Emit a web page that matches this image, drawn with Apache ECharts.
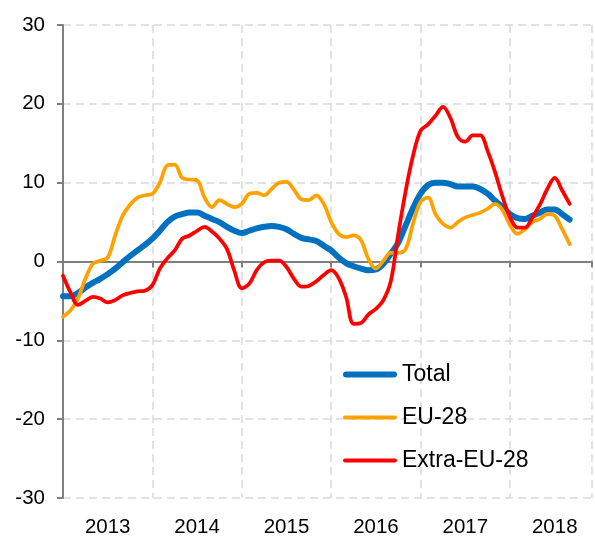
<!doctype html>
<html>
<head>
<meta charset="utf-8">
<title>Total / EU-28 / Extra-EU-28</title>
<script src="https://cdn.jsdelivr.net/npm/echarts@6/dist/echarts.min.js"></script>
<style>
  html, body { margin: 0; padding: 0; background: #fff; }
  #main { width: 595px; height: 538px; }
</style>
</head>
<body>
<div id="main"></div>
<script>
// monthly values, Jan 2013 .. Sep 2018
var years = ['2013', '2014', '2015', '2016', '2017', '2018'];

var total = [
  -4.4, -4.4, -4.0, -3.3, -2.7, -2.2, -1.6, -0.9, -0.1, 0.7, 1.4, 2.1,
  2.9, 3.9, 5.0, 5.7, 6.0, 6.2, 6.2, 5.8, 5.4, 5.0, 4.4, 3.9,
  3.6, 3.9, 4.2, 4.4, 4.5, 4.4, 4.1, 3.5, 3.0, 2.8, 2.6, 2.0,
  1.4, 0.5, -0.2, -0.6, -0.9, -1.1, -1.0, -0.3, 1.0, 2.4, 4.6, 6.8,
  8.6, 9.7, 10.0, 10.0, 9.8, 9.5, 9.5, 9.5, 9.2, 8.6, 7.7, 6.9,
  6.0, 5.5, 5.4, 5.8, 6.2, 6.6, 6.6, 6.0, 5.3
];

var eu28 = [
  -7.0, -6.2, -4.7, -2.2, -0.3, 0.1, 0.5, 3.3, 5.8, 7.2, 8.1, 8.4,
  8.6, 10.0, 12.2, 12.3, 10.6, 10.4, 10.3, 8.1, 6.9, 7.8, 7.3, 6.9,
  7.3, 8.6, 8.7, 8.4, 9.2, 10.0, 10.1, 9.1, 7.9, 7.8, 8.4, 7.3,
  5.0, 3.5, 3.1, 3.3, 2.7, 0.3, -0.9, 0.1, 1.1, 1.1, 1.6, 4.9,
  7.6, 8.1, 6.0, 4.8, 4.3, 5.0, 5.6, 5.9, 6.2, 6.7, 7.3, 6.5,
  4.6, 3.5, 4.1, 5.0, 5.4, 6.0, 5.8, 4.1, 2.2
];

var extraEu28 = [
  -1.8, -3.9, -5.5, -5.0, -4.5, -4.7, -5.2, -4.9, -4.3, -4.0, -3.8, -3.7,
  -3.0, -0.9, 0.4, 1.4, 2.9, 3.3, 3.9, 4.4, 3.8, 2.9, 1.6, -1.2,
  -3.4, -2.8, -1.1, -0.1, 0.1, 0.1, -0.7, -2.2, -3.2, -3.1, -2.5, -1.7,
  -1.1, -2.1, -4.5, -7.9, -7.8, -6.7, -6.0, -4.9, -2.5, 3.5, 9.0, 13.5,
  16.6, 17.4, 18.5, 19.6, 18.2, 15.8, 15.2, 16.0, 16.0, 14.0, 11.3, 8.2,
  5.6, 4.3, 4.3, 5.6, 7.2, 9.2, 10.6, 9.0, 7.3
];

function pairs(arr) {
  return arr.map(function (v, i) { return [i, v]; });
}

var font = 'Liberation Sans, Arial, sans-serif';
var axisGrey = '#7F7F7F';
var gridGrey = '#D9D9D9';

// legend icons: rounded bars, thick for Total, thinner for the others
var thickIcon = 'path://M3,0H51A3,3 0 0 1 51,6H3A3,3 0 0 1 3,0Z';
var thinIcon = 'path://M2,0H52A2,2 0 0 1 52,4H2A2,2 0 0 1 2,0Z';

var chart = echarts.init(document.getElementById('main'));

var option = {
  animation: false,
  backgroundColor: '#fff',
  grid: { left: 63, right: 0, top: 25, bottom: 39 },
  legend: {
    orient: 'vertical',
    left: 338,
    top: 358,
    itemWidth: 54,
    itemHeight: 20,
    itemGap: 20,
    symbolKeepAspect: true,
    textStyle: { fontFamily: font, fontSize: 23, color: '#000' },
    data: [
      { name: 'Total', icon: thickIcon },
      { name: 'EU-28', icon: thinIcon },
      { name: 'Extra-EU-28', icon: thinIcon }
    ]
  },
  xAxis: [{
    type: 'value',
    min: 0,
    max: 71,
    interval: 12,
    axisLine: { onZero: true, lineStyle: { color: axisGrey, width: 2 } },
    axisTick: { show: true, length: 6, lineStyle: { color: axisGrey, width: 2 } },
    axisLabel: { show: false },
    splitLine: { show: true, lineStyle: { color: gridGrey, width: 1.5, type: [8, 5] } }
  }, {
    type: 'value',
    min: 0,
    max: 71,
    interval: 6,
    position: 'bottom',
    axisLine: { show: false, onZero: false },
    axisTick: { show: false },
    splitLine: { show: false },
    axisLabel: {
      margin: 19,
      fontFamily: font,
      fontSize: 20.5,
      color: '#000',
      formatter: function (v) {
        return v % 12 === 6 ? years[(v - 6) / 12] : '';
      }
    }
  }],
  yAxis: {
    type: 'value',
    min: -30,
    max: 30,
    interval: 10,
    axisLine: { show: true, lineStyle: { color: axisGrey, width: 2 } },
    axisTick: { show: true, length: 6, lineStyle: { color: axisGrey, width: 2 } },
    axisLabel: { margin: 18, fontFamily: font, fontSize: 20.5, color: '#000' },
    splitLine: { show: true, lineStyle: { color: gridGrey, width: 1.5, type: [8, 5] } }
  },
  series: [{
    name: 'Total',
    type: 'line',
    data: pairs(total),
    symbol: 'none',
    smooth: 0.35,
    itemStyle: { color: '#0070C0' },
    lineStyle: { color: '#0070C0', width: 6, cap: 'round' }
  }, {
    name: 'EU-28',
    type: 'line',
    data: pairs(eu28),
    symbol: 'none',
    smooth: 0.35,
    itemStyle: { color: '#FFA200' },
    lineStyle: { color: '#FFA200', width: 3.75, cap: 'round' }
  }, {
    name: 'Extra-EU-28',
    type: 'line',
    data: pairs(extraEu28),
    symbol: 'none',
    smooth: 0.35,
    itemStyle: { color: '#FF0000' },
    lineStyle: { color: '#FF0000', width: 3.75, cap: 'round' }
  }]
};

chart.setOption(option);
</script>
</body>
</html>
